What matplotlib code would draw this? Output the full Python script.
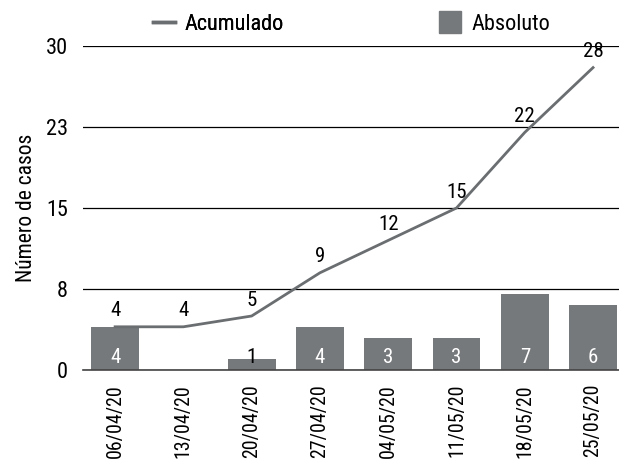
import matplotlib
matplotlib.use("Agg")
import matplotlib.pyplot as plt
from matplotlib.lines import Line2D

plt.rcParams['font.family'] = ['Roboto Condensed', 'DejaVu Sans']

categories = ["06/04/20", "13/04/20", "20/04/20", "27/04/20", "04/05/20", "11/05/20", "18/05/20", "25/05/20"]
absoluto = [4, 0, 1, 4, 3, 3, 7, 6]
acumulado = [4, 4, 5, 9, 12, 15, 22, 28]
yticks = [0, 7.5, 15, 22.5, 30]
yticklabels = ["0", "8", "15", "23", "30"]

bar_color = "#76797c"
line_color = "#6b6e71"
FS = 16

fig = plt.figure(figsize=(6.19, 4.59), dpi=100)
ax = fig.add_axes([83/619, 1 - 370/459, (619-83)/619, (370-46)/459])

x = list(range(len(categories)))
ax.bar(x, absoluto, width=0.7, color=bar_color, zorder=2)
ax.plot(x, acumulado, color=line_color, lw=2, zorder=3)

for xi, v in zip(x, absoluto):
    if v == 0:
        continue
    color = 'white' if v >= 2 else 'black'
    ax.text(xi, 0.3, str(v), ha='center', va='bottom', color=color, fontsize=15)
for xi, v in zip(x, acumulado):
    ax.text(xi, v + 0.6, str(v), ha='center', va='bottom', color='black', fontsize=15)

ax.set_xlim(-0.47, 7.38)
ax.set_ylim(0, 30)
ax.set_yticks(yticks)
ax.set_yticklabels(yticklabels, fontsize=FS)
ax.yaxis.grid(True, color='black', lw=0.9, zorder=1)
ax.set_axisbelow(True)
ax.set_xticks(x)
ax.set_xticklabels(categories, rotation=90, fontsize=14.3)
ax.tick_params(axis='x', length=0, pad=10)
ax.tick_params(axis='y', length=0, pad=11)
for s in ['top', 'right', 'left']:
    ax.spines[s].set_visible(False)
ax.spines['bottom'].set_color('#444444')
ax.spines['bottom'].set_linewidth(1.2)
ax.set_ylabel("Número de casos", fontsize=15.5, labelpad=6)

h1 = Line2D([0], [0], color=line_color, lw=2.5)
h2 = Line2D([0], [0], color=bar_color, marker='s', ls='', markersize=16.5)
leg1 = fig.legend([h1], ["Acumulado"], loc='center left', bbox_to_anchor=(153/619, 1 - 24/459),
                  frameon=False, fontsize=FS, handlelength=1.0, handletextpad=0.4,
                  borderpad=0, borderaxespad=0)
fig.add_artist(leg1)
fig.legend([h2], ["Absoluto"], loc='center left', bbox_to_anchor=(438/619, 1 - 24/459),
           frameon=False, fontsize=FS, handlelength=1.04, handletextpad=0.45,
           borderpad=0, borderaxespad=0, numpoints=1)

fig.savefig("out.png", dpi=100)
